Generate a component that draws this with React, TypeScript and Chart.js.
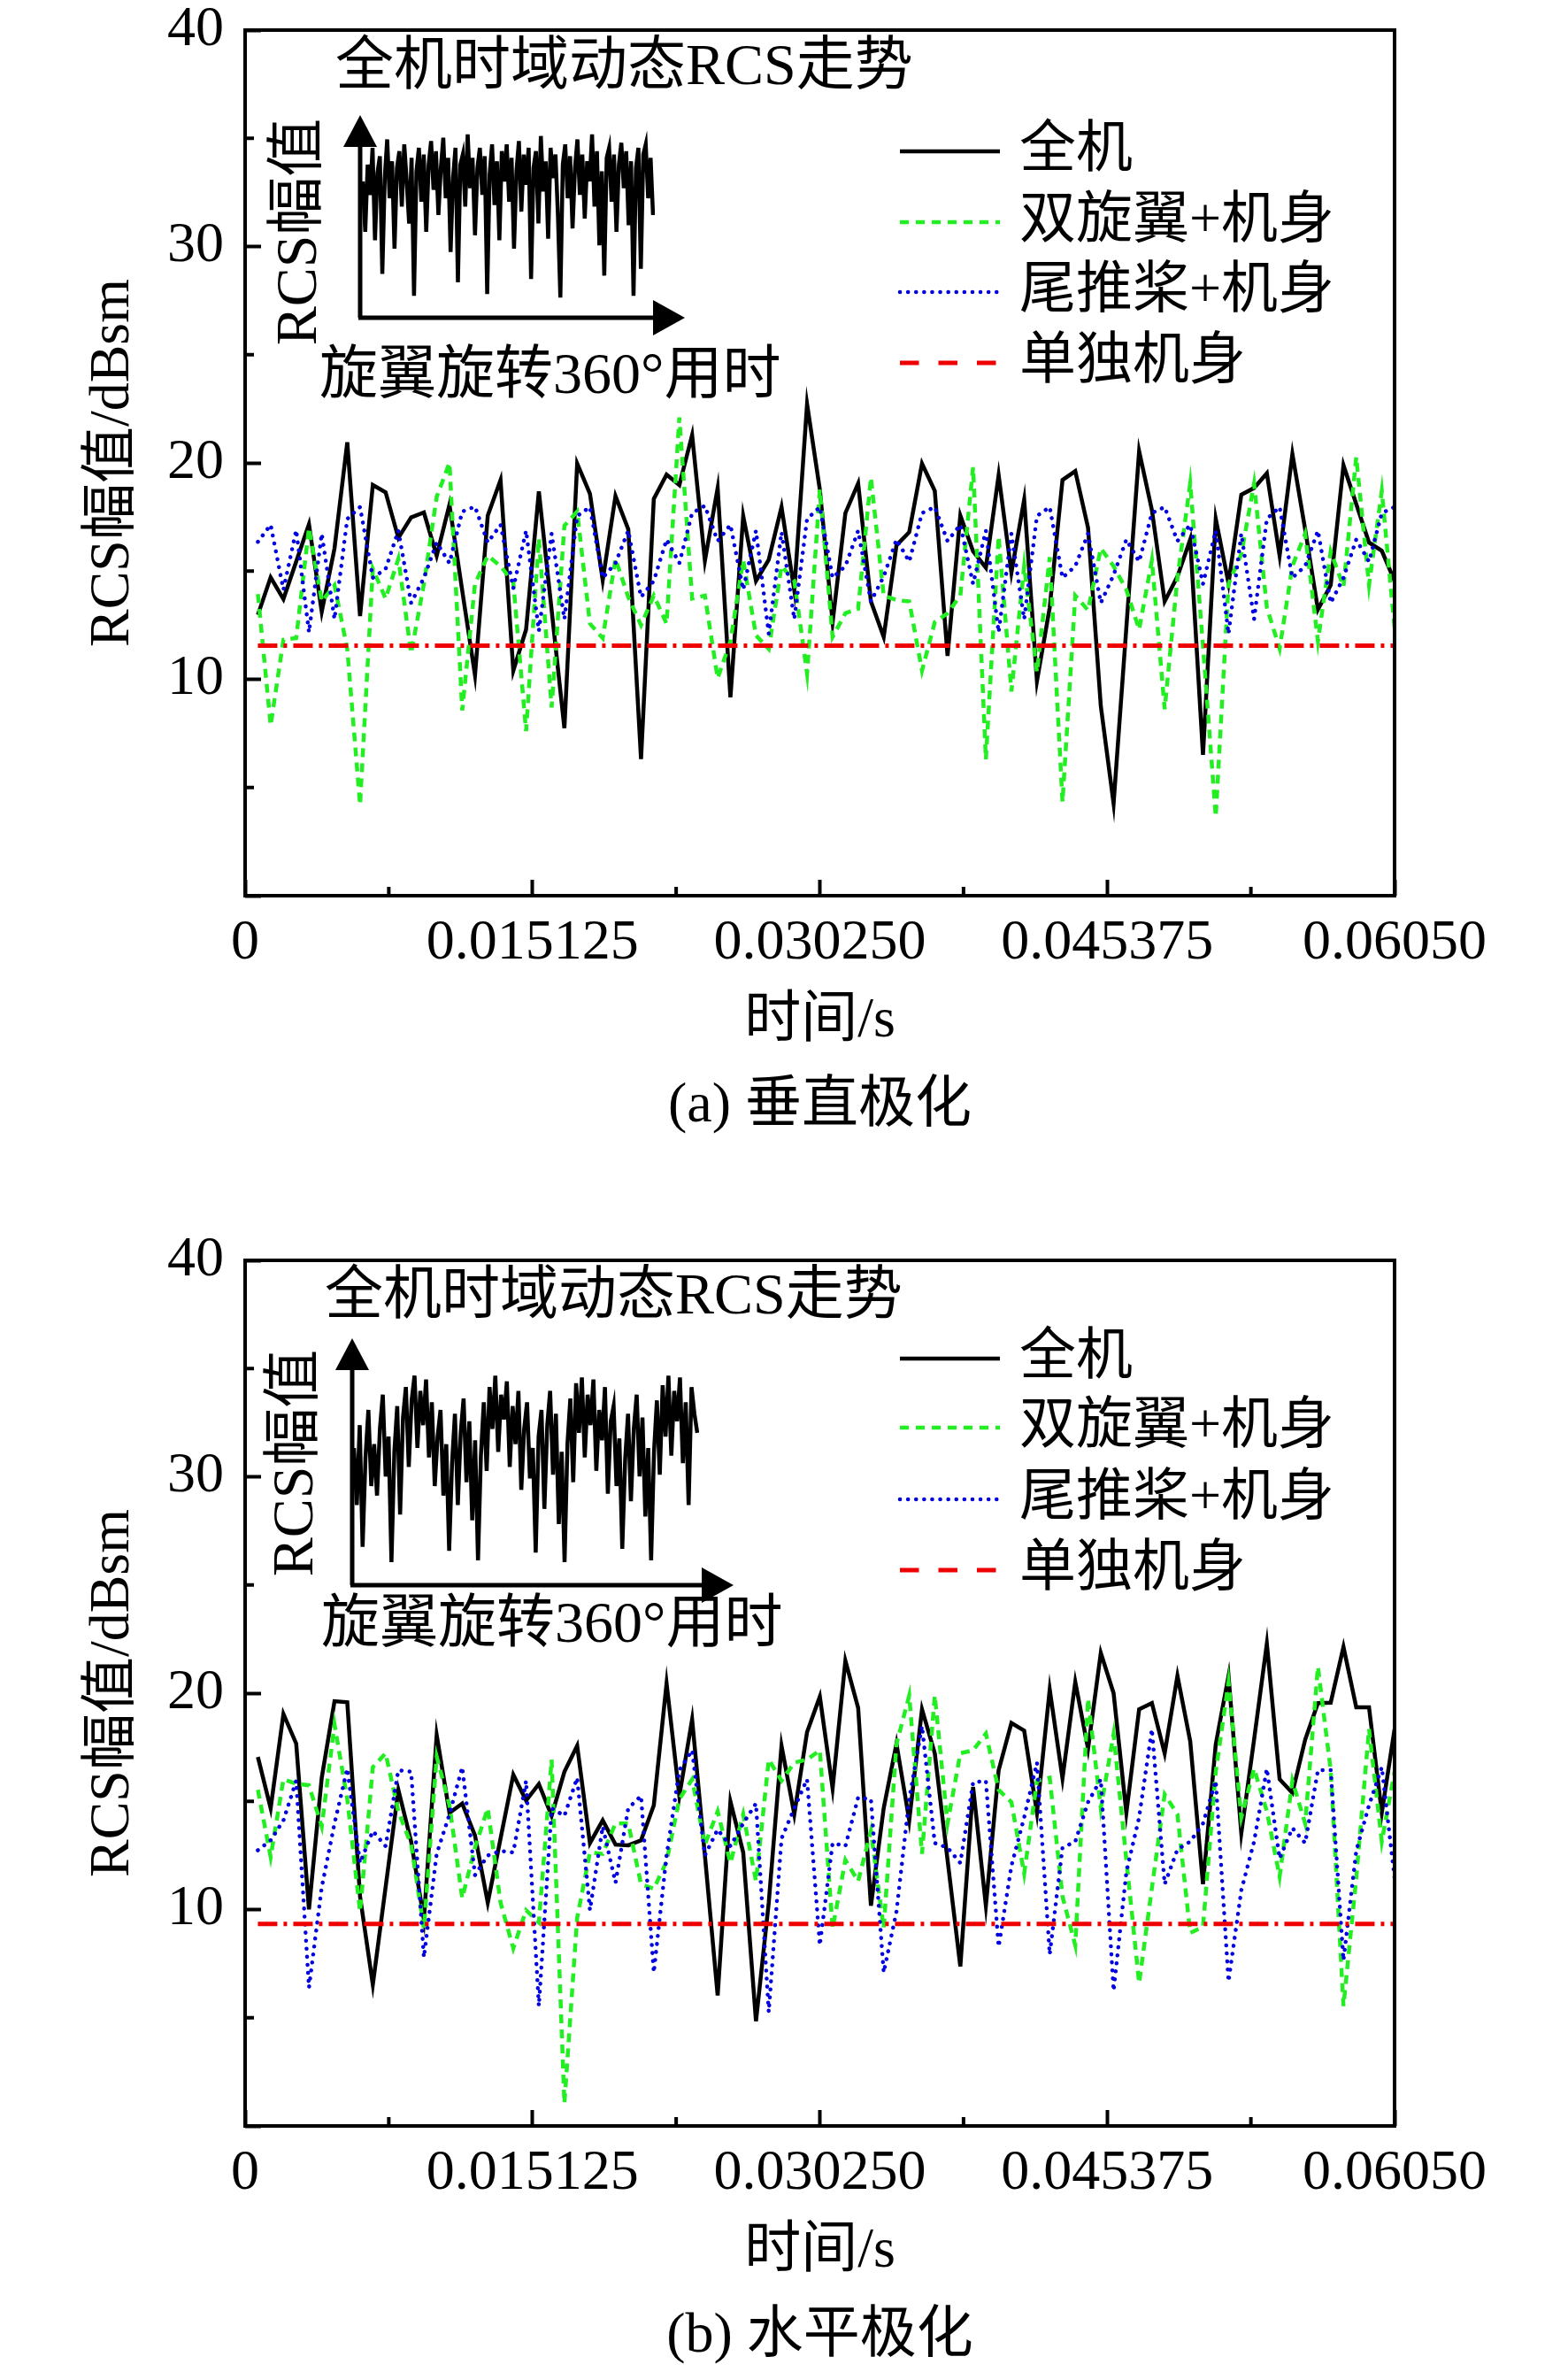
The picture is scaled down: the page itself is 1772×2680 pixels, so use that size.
import { useEffect, useRef } from "react";
import { Chart, registerables } from "chart.js";

Chart.register(...registerables);

const FONT = '"Liberation Serif", "Noto Sans CJK SC", serif';
const W = 1772;

// eixo do tempo: 90 amostras até 0.0605 s
const T_END = 0.0605;
const N_SAMPLES = 90;
const TIME = Array.from({ length: N_SAMPLES }, (_, i) => ((i + 1) * T_END) / N_SAMPLES);

const X_TICKS = [0, 0.015125, 0.03025, 0.045375, 0.0605];
const X_TICK_LABELS = ["0", "0.015125", "0.030250", "0.045375", "0.06050"];
const X_MINOR = [0.0075625, 0.0226875, 0.0378125, 0.0529375];
const Y_TICKS = [0, 10, 20, 30, 40];
const Y_TICK_LABELS = ["", "10", "20", "30", "40"];
const Y_MINOR = [5, 15, 25, 35];

const SERIES_LABELS = ["全机", "双旋翼+机身", "尾推桨+机身", "单独机身"];

// (a) 垂直极化
const V_FULL = [
  12.98, 14.71, 13.71, 15.44, 17.17, 13.12, 16.05, 20.95, 12.92, 18.98,
  18.64, 16.53, 17.48, 17.71, 15.71, 18.07, 14.1, 10.19, 17.57, 19.21,
  10.4, 12.3, 18.68, 13.2, 7.74, 19.97, 18.57, 14.58, 18.47, 16.93,
  6.31, 18.34, 19.46, 18.98, 21.29, 15.48, 18.84, 9.17, 17.55, 14.55,
  15.53, 17.96, 14.11, 22.72, 18.77, 12.64, 17.68, 19.05, 13.6, 11.96,
  16.19, 16.8, 19.97, 18.71, 11.08, 17.57, 15.91, 15.16, 19.43, 14.93,
  18.3, 9.92, 13.32, 19.21, 19.62, 17.0, 8.76, 4.26, 12.4, 20.54,
  17.82, 13.6, 14.75, 16.46, 6.51, 17.41, 14.44, 18.53, 18.84, 19.52,
  15.71, 20.41, 16.93, 13.22, 14.35, 19.89, 18.1, 16.32, 15.94, 14.55,
];
const V_ROTOR = [
  13.94, 7.87, 11.83, 11.9, 17.0, 13.6, 14.35, 11.4, 4.2, 15.1,
  13.73, 15.57, 11.2, 14.41, 18.43, 20.0, 8.56, 14.41, 15.71, 15.23,
  14.48, 7.6, 16.5, 8.7, 17.1, 17.75, 12.57, 11.9, 15.57, 13.8,
  12.5, 13.87, 12.57, 22.1, 13.73, 13.87, 10.05, 11.76, 15.5, 12.03,
  11.4, 15.23, 14.55, 10.26, 18.77, 11.96, 13.05, 13.26, 19.32, 13.87,
  13.66, 13.6, 10.4, 12.64, 13.05, 13.87, 19.8, 6.3, 16.6, 9.44,
  15.23, 10.33, 15.64, 4.33, 13.87, 13.19, 16.05, 15.23, 14.14, 12.3,
  15.5, 8.62, 14.69, 19.05, 11.55, 3.65, 14.41, 15.78, 19.05, 13.32,
  11.42, 15.23, 16.73, 11.76, 15.91, 14.28, 20.27, 14.35, 18.7, 12.37,
];
const V_PROP = [
  16.35, 17.14, 14.14, 16.9, 12.17, 16.73, 12.78, 17.41, 17.96, 14.69,
  15.1, 16.87, 13.53, 14.69, 16.32, 15.37, 17.75, 17.98, 16.32, 17.14,
  14.21, 16.87, 12.23, 16.73, 12.78, 17.55, 17.96, 14.69, 15.37, 16.87,
  13.8, 14.55, 16.46, 15.37, 17.68, 18.02, 16.39, 17.14, 14.14, 16.87,
  12.1, 16.8, 12.78, 17.41, 17.96, 14.69, 15.23, 16.87, 13.6, 14.75,
  16.46, 15.44, 17.68, 17.96, 16.39, 17.14, 14.41, 16.87, 12.17, 16.73,
  12.78, 17.55, 17.96, 14.69, 15.23, 16.73, 13.53, 14.82, 16.46, 15.44,
  17.68, 17.96, 16.39, 17.14, 14.41, 16.87, 12.1, 16.73, 12.78, 17.41,
  17.96, 14.69, 15.23, 16.87, 13.53, 14.69, 16.46, 15.44, 17.68, 17.96,
];
const V_BODY = 11.55;

// (b) 水平极化
const H_FULL = [
  17.05, 14.68, 19.04, 17.67, 10.01, 16.09, 19.63, 19.58, 10.6, 6.53,
  11.03, 15.53, 13.14, 9.55, 18.06, 14.47, 14.9, 13.42, 10.32, 13.28,
  16.23, 15.04, 15.8, 14.33, 16.37, 17.57, 13.07, 14.12, 13.0, 12.97,
  13.2, 14.82, 20.45, 15.25, 18.79, 12.5, 6.03, 14.99, 12.64, 4.84,
  10.32, 17.57, 14.4, 18.2, 19.84, 15.6, 21.5, 19.32, 10.18, 14.68,
  17.67, 14.12, 19.25, 17.22, 12.29, 7.37, 15.67, 10.18, 16.44, 18.62,
  18.27, 14.47, 20.17, 16.06, 20.52, 17.43, 21.86, 20.0, 14.47, 19.25,
  19.54, 17.22, 20.8, 17.78, 11.17, 17.64, 20.8, 13.53, 17.85, 22.28,
  16.02, 15.39, 17.85, 19.54, 19.56, 22.14, 19.35, 19.35, 14.47, 18.34,
];
const H_ROTOR = [
  15.53, 12.43, 16.02, 15.81, 15.74, 13.84, 18.55, 15.1, 9.9, 16.58,
  17.22, 14.54, 13.0, 9.13, 17.07, 14.82, 10.53, 12.86, 14.68, 10.32,
  8.21, 9.97, 9.4, 16.93, 1.04, 9.62, 12.64, 12.57, 13.98, 13.98,
  11.17, 10.96, 12.22, 15.1, 16.02, 13.0, 14.54, 12.15, 14.4, 11.31,
  16.93, 15.95, 16.79, 16.93, 17.36, 9.13, 12.29, 11.31, 13.63, 9.13,
  17.64, 19.89, 12.57, 19.89, 13.98, 17.22, 17.36, 18.13, 15.53, 14.96,
  11.66, 15.95, 16.09, 10.6, 8.35, 19.75, 14.68, 18.1, 12.3, 6.6,
  11.0, 15.32, 14.4, 8.92, 9.2, 16.37, 20.52, 14.26, 16.51, 14.54,
  11.52, 15.95, 13.98, 21.22, 16.44, 5.54, 11.45, 18.34, 13.14, 16.37,
];
const H_PROP = [
  12.74, 13.2, 14.12, 15.95, 6.39, 11.03, 13.98, 16.51, 12.15, 13.63,
  12.93, 16.44, 16.37, 7.79, 12.57, 14.4, 16.58, 11.59, 12.5, 12.71,
  12.64, 15.95, 5.54, 14.68, 14.33, 16.09, 9.97, 13.84, 11.24, 14.68,
  15.25, 7.09, 12.5, 16.44, 17.36, 12.5, 13.7, 12.93, 13.98, 14.9,
  5.26, 13.28, 14.68, 16.02, 8.35, 13.07, 12.93, 15.18, 15.1, 7.09,
  9.9, 15.1, 18.48, 13.07, 12.86, 12.15, 15.88, 15.95, 8.28, 12.01,
  14.26, 16.79, 7.93, 12.86, 13.14, 14.96, 16.02, 6.24, 11.73, 14.26,
  18.34, 11.17, 12.78, 13.14, 13.98, 15.95, 6.67, 10.89, 13.14, 16.51,
  12.36, 13.77, 13.07, 16.44, 16.44, 7.65, 12.71, 14.82, 16.58, 11.45,
];
const H_BODY = 9.34;

// miniaturas "全机时域动态RCS走势" (escala relativa 0–100)
const INSET_V = [
  70, 40, 80, 62, 90, 35, 75, 85, 15, 72, 95, 60, 82, 30, 78, 88, 55, 92, 70, 45,
  84, 2, 76, 90, 58, 86, 40, 80, 94, 65, 88, 50, 78, 96, 60, 84, 28, 72, 90, 10,
  80, 86, 55, 98, 66, 84, 38, 78, 90, 62, 85, 3, 74, 92, 56, 82, 35, 88, 70, 92,
  58, 84, 30, 76, 94, 52, 86, 68, 90, 12, 78, 88, 45, 97, 64, 82, 36, 90, 72, 86,
  50, 1, 80, 92, 60, 85, 42, 78, 95, 62, 86, 48, 82, 70, 98, 55, 88, 32, 76, 14,
  84, 90, 58, 86, 40, 80, 93, 66, 88, 44, 82, 2, 78, 90, 18, 86, 92, 60, 84, 50,
];
const INSET_H = [
  60, 30, 72, 8, 55, 80, 40, 62, 35, 70, 88, 45, 66, 0, 58, 82, 25, 76, 92, 50,
  85, 98, 60, 90, 72, 96, 55, 84, 40, 66, 80, 35, 62, 6, 52, 78, 30, 68, 86, 42,
  74, 22, 64, 1, 56, 84, 48, 92, 70, 98, 58, 88, 75, 95, 50, 82, 62, 90, 38, 70,
  84, 44, 60, 5, 66, 80, 28, 72, 90, 46, 78, 20, 58, 0, 62, 86, 42, 94, 68, 97,
  55, 88, 72, 96, 48, 80, 64, 92, 36, 74, 82, 40, 65, 7, 54, 78, 32, 70, 88, 45,
  76, 24, 60, 1, 58, 85, 46, 93, 66, 98, 56, 90, 74, 97, 52, 84, 30, 92, 78, 68,
];

const STYLES = [
  { color: "#000000", width: 4.5, dash: [] as number[], legendDash: [] as number[], cap: "butt" },
  { color: "#22ee22", width: 4.5, dash: [10, 7], legendDash: [10, 8], cap: "butt" },
  { color: "#0000e0", width: 4.5, dash: [0.1, 9], legendDash: [0.1, 9], cap: "round" },
  { color: "#ee0000", width: 5, dash: [22, 7, 4, 7], legendDash: [21.5, 22], cap: "butt" },
];

const PLOT_LEFT = 277;
const PLOT_RIGHT = 1576;
const PLOT_TOP = 34;
const PLOT_BOTTOM = 1012;

interface PanelCfg {
  top: number;
  height: number;
  caption: string;
  series: number[][];
  body: number;
  inset: number[];
  legendRows: number[];
  ins: {
    titleX: number; titleY: number;
    axisX: number; axisY: number; vTip: number; hTip: number;
    left: number; right: number; dataTop: number; dataBottom: number;
    yLabX: number; yLabY: number; xLabX: number; xLabY: number;
  };
}

const PANELS: PanelCfg[] = [
  {
    top: 0, height: 1390, caption: "(a) 垂直极化",
    series: [V_FULL, V_ROTOR, V_PROP], body: V_BODY, inset: INSET_V,
    legendRows: [171, 251, 330, 410],
    ins: {
      titleX: 379, titleY: 78, axisX: 407, axisY: 359, vTip: 130, hTip: 774,
      left: 410, right: 738, dataTop: 148, dataBottom: 338,
      yLabX: 340, yLabY: 262, xLabX: 361, xLabY: 427,
    },
  },
  {
    top: 1390, height: 1290, caption: "(b) 水平极化",
    series: [H_FULL, H_ROTOR, H_PROP], body: H_BODY, inset: INSET_H,
    legendRows: [145, 223, 304, 384],
    ins: {
      titleX: 367, titleY: 77, axisX: 398, axisY: 401, vTip: 122, hTip: 829,
      left: 400, right: 788, dataTop: 160, dataBottom: 375,
      yLabX: 336, yLabY: 263, xLabX: 363, xLabY: 448,
    },
  },
];

const INSET_PAD = 6;

function Panel({ cfg }: { cfg: PanelCfg }) {
  const mainRef = useRef<HTMLCanvasElement>(null);
  const insetRef = useRef<HTMLCanvasElement>(null);
  const H = cfg.height;
  const ins = cfg.ins;

  useEffect(() => {
    if (!mainRef.current || !insetRef.current) return;

    const decor = {
      id: "decor",
      afterDraw(chart: any) {
        const { ctx, chartArea: a, scales } = chart;
        ctx.save();
        ctx.strokeStyle = "#000";
        ctx.fillStyle = "#000";
        ctx.lineWidth = 4;
        ctx.strokeRect(a.left, a.top, a.right - a.left, a.bottom - a.top);

        // ticks menores
        ctx.beginPath();
        X_MINOR.forEach((v) => {
          const x = scales.x.getPixelForValue(v);
          ctx.moveTo(x, a.bottom);
          ctx.lineTo(x, a.bottom - 10);
        });
        Y_MINOR.forEach((v) => {
          const y = scales.y.getPixelForValue(v);
          ctx.moveTo(a.left, y);
          ctx.lineTo(a.left + 10, y);
        });
        ctx.stroke();

        // legenda
        ctx.font = `64px ${FONT}`;
        ctx.textBaseline = "middle";
        ctx.textAlign = "left";
        SERIES_LABELS.forEach((label, i) => {
          const st = STYLES[i];
          const y = cfg.legendRows[i];
          ctx.save();
          ctx.strokeStyle = st.color;
          ctx.lineWidth = st.width;
          ctx.lineCap = st.cap;
          ctx.setLineDash(st.legendDash);
          ctx.beginPath();
          ctx.moveTo(1017, y);
          ctx.lineTo(1130, y);
          ctx.stroke();
          ctx.restore();
          ctx.fillText(label, 1152, y);
        });

        // eixos da miniatura
        ctx.lineWidth = 5;
        ctx.beginPath();
        ctx.moveTo(ins.axisX, ins.axisY);
        ctx.lineTo(ins.axisX, ins.vTip + 30);
        ctx.moveTo(ins.axisX - 2, ins.axisY);
        ctx.lineTo(ins.hTip - 30, ins.axisY);
        ctx.stroke();
        ctx.beginPath();
        ctx.moveTo(ins.axisX, ins.vTip);
        ctx.lineTo(ins.axisX - 19, ins.vTip + 36);
        ctx.lineTo(ins.axisX + 19, ins.vTip + 36);
        ctx.closePath();
        ctx.fill();
        ctx.beginPath();
        ctx.moveTo(ins.hTip, ins.axisY);
        ctx.lineTo(ins.hTip - 36, ins.axisY - 20);
        ctx.lineTo(ins.hTip - 36, ins.axisY + 20);
        ctx.closePath();
        ctx.fill();

        ctx.font = `66px ${FONT}`;
        ctx.fillText("全机时域动态RCS走势", ins.titleX, ins.titleY);
        ctx.fillText("旋翼旋转360°用时", ins.xLabX, ins.xLabY);
        ctx.save();
        ctx.translate(ins.yLabX, ins.yLabY);
        ctx.rotate(-Math.PI / 2);
        ctx.textAlign = "center";
        ctx.fillText("RCS幅值", 0, 0);
        ctx.restore();

        // legenda da figura
        ctx.font = `64px ${FONT}`;
        ctx.textAlign = "center";
        ctx.fillText(cfg.caption, (a.left + a.right) / 2, a.bottom + 238);
        ctx.restore();
      },
    };

    const lineSet = (i: number, data: { x: number; y: number }[], order: number) => ({
      label: SERIES_LABELS[i],
      data,
      borderColor: STYLES[i].color,
      borderWidth: STYLES[i].width,
      borderDash: STYLES[i].dash,
      borderCapStyle: STYLES[i].cap,
      pointRadius: 0,
      tension: 0,
      order,
    });

    const main = new Chart(mainRef.current, {
      type: "line",
      data: {
        datasets: [
          lineSet(0, TIME.map((t, k) => ({ x: t, y: cfg.series[0][k] })), 3),
          lineSet(1, TIME.map((t, k) => ({ x: t, y: cfg.series[1][k] })), 2),
          lineSet(2, TIME.map((t, k) => ({ x: t, y: cfg.series[2][k] })), 1),
          lineSet(3, [
            { x: TIME[0], y: cfg.body },
            { x: TIME[N_SAMPLES - 1], y: cfg.body },
          ], 0),
        ] as any,
      },
      options: {
        responsive: false,
        animation: false,
        devicePixelRatio: 1,
        layout: { padding: { left: 0, right: W - PLOT_RIGHT, top: PLOT_TOP, bottom: 0 } },
        plugins: { legend: { display: false }, tooltip: { enabled: false } },
        scales: {
          x: {
            type: "linear",
            min: 0,
            max: T_END,
            afterBuildTicks: (s: any) => {
              s.ticks = X_TICKS.map((value) => ({ value }));
            },
            afterFit: (s: any) => {
              s.height = H - PLOT_BOTTOM;
              s.paddingLeft = 0;
              s.paddingRight = 0;
            },
            ticks: {
              autoSkip: false,
              maxRotation: 0,
              padding: 40,
              color: "#000",
              font: { family: FONT, size: 64, lineHeight: 1 },
              callback: (_v: any, i: number) => X_TICK_LABELS[i],
            },
            grid: { drawOnChartArea: false, tickLength: -18, tickWidth: 4, tickColor: "#000" },
            border: { display: false },
            title: {
              display: true,
              text: "时间/s",
              color: "#000",
              font: { family: FONT, size: 64 },
              padding: { top: 0, bottom: H - 1154 - 38.4 },
            },
          },
          y: {
            type: "linear",
            min: 0,
            max: 40,
            afterBuildTicks: (s: any) => {
              s.ticks = Y_TICKS.map((value) => ({ value }));
            },
            afterFit: (s: any) => {
              s.width = PLOT_LEFT;
              s.paddingTop = 0;
              s.paddingBottom = 0;
            },
            ticks: {
              padding: 42,
              color: "#000",
              font: { family: FONT, size: 64, lineHeight: 1 },
              callback: (_v: any, i: number) => Y_TICK_LABELS[i],
            },
            grid: { drawOnChartArea: false, tickLength: -18, tickWidth: 4, tickColor: "#000" },
            border: { display: false },
            title: {
              display: true,
              text: "RCS幅值/dBsm",
              color: "#000",
              font: { family: FONT, size: 64 },
              padding: { top: 128 - 38.4, bottom: 0 },
            },
          },
        },
      },
      plugins: [decor],
    });

    const inset = new Chart(insetRef.current, {
      type: "line",
      data: {
        labels: cfg.inset.map((_, i) => i),
        datasets: [
          { data: cfg.inset, borderColor: "#000", borderWidth: 4.5, pointRadius: 0, tension: 0 },
        ],
      },
      options: {
        responsive: false,
        animation: false,
        devicePixelRatio: 1,
        layout: { padding: INSET_PAD },
        plugins: { legend: { display: false }, tooltip: { enabled: false } },
        scales: {
          x: { display: false },
          y: { display: false, min: 0, max: 100 },
        },
      },
    });

    return () => {
      main.destroy();
      inset.destroy();
    };
  }, [cfg]);

  const iw = ins.right - ins.left + 2 * INSET_PAD;
  const ih = ins.dataBottom - ins.dataTop + 2 * INSET_PAD;

  return (
    <div style={{ position: "absolute", left: 0, top: cfg.top, width: W, height: H }}>
      <canvas
        ref={mainRef}
        width={W}
        height={H}
        style={{ position: "absolute", left: 0, top: 0, width: W, height: H }}
      />
      <canvas
        ref={insetRef}
        width={iw}
        height={ih}
        style={{
          position: "absolute",
          left: ins.left - INSET_PAD,
          top: ins.dataTop - INSET_PAD,
          width: iw,
          height: ih,
        }}
      />
    </div>
  );
}

export default function App() {
  return (
    <div
      style={{
        position: "absolute",
        left: 0,
        top: 0,
        width: W,
        height: 2680,
        background: "#fff",
        overflow: "hidden",
      }}
    >
      {PANELS.map((p) => (
        <Panel key={p.caption} cfg={p} />
      ))}
    </div>
  );
}
